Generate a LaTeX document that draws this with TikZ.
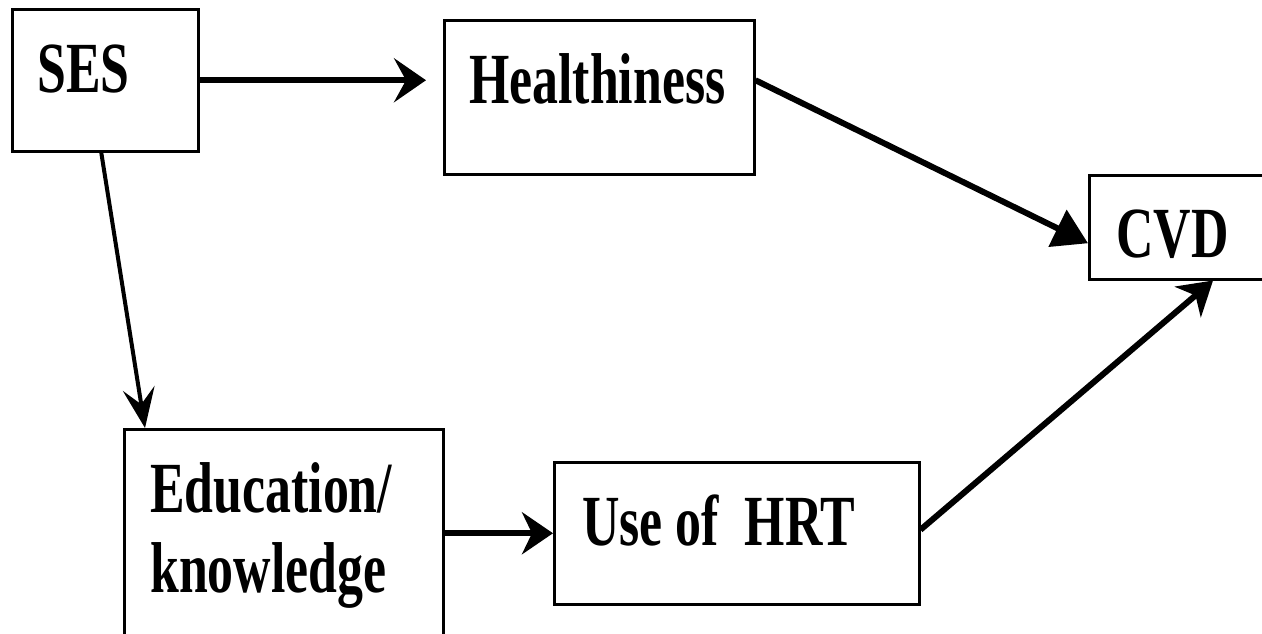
\documentclass[tikz,border=0pt]{standalone}
\usepackage{fontspec}
\newfontfamily\labfont{Liberation Serif}[FakeStretch=0.72]
\usetikzlibrary{arrows.meta}
\begin{document}
\begin{tikzpicture}[x=1pt,y=-1pt,
  box/.style={draw, line width=2.5pt, inner sep=0pt, anchor=north west},
  lab/.style={anchor=base west, inner sep=0pt, font=\labfont\bfseries\fontsize{72}{80}\selectfont},
  conn/.style={line width=6pt},
  stl/.style={-{Stealth[length=32pt,width=44pt,inset=12pt]}},
  tri/.style={-{Triangle[length=34pt,width=40pt]}},
]
\useasboundingbox (0,0) rectangle (1262,633);
\clip (0,0) rectangle (1262,633);
% boxes
\node[box, minimum width=186pt, minimum height=142pt] (ses) at (11,8) {};
\node[box, minimum width=310pt, minimum height=154pt] (health) at (443,19) {};
\node[box, minimum width=200pt, minimum height=104pt] (cvd) at (1088,174) {};
\node[box, minimum width=319pt, minimum height=230pt] (edu) at (123,428) {};
\node[box, minimum width=365pt, minimum height=142pt] (hrt) at (553,461) {};
% labels
\node[lab] (sesT) at (37,92) {SES};
\node[lab] (healthT) at (469,103) {Healthiness};
\node[lab] (cvdT) at (1116,257) {CVD};
\node[lab] (eduT) at (150,512) {\begin{tabular}[t]{@{}l@{}}Education/\\knowledge\end{tabular}};
\node[lab] (hrtT) at (582,545) {Use of\ \ HRT};
% connectors
\draw[conn, stl, shorten >=17pt] (ses.east) -- (ses.east -| health.west);
\draw[line width=4pt, -{Stealth[length=40pt,width=32pt,inset=16pt]}] ([xshift=-4pt]ses.south) -- ([xshift=22pt]edu.north west);
\draw[conn, tri] ([yshift=17pt]health.east) -- ([yshift=-16pt]cvd.west);
\draw[conn, -{Stealth[length=31pt,width=42pt,inset=10pt]}] (edu.east |- hrt.west) -- (hrt.west);
\draw[conn, -{Stealth[length=33pt,width=40pt,inset=10pt]}] ([yshift=3.5pt]hrt.east) -- ([xshift=125pt]cvd.south west);
\end{tikzpicture}
\end{document}
